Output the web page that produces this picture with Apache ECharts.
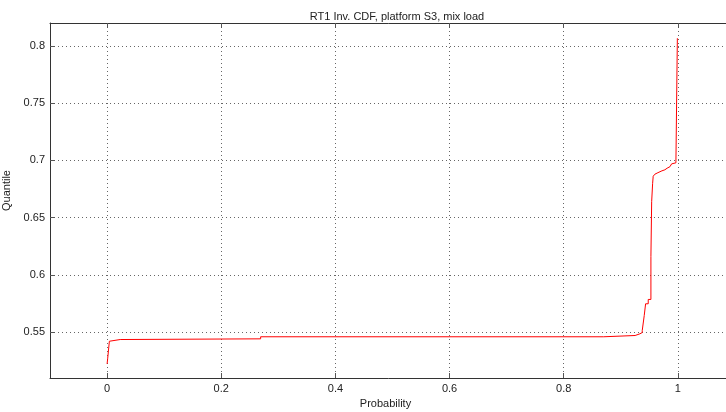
<!DOCTYPE html>
<html>
<head>
<meta charset="utf-8">
<script src="https://cdn.jsdelivr.net/npm/echarts@6/dist/echarts.min.js"></script>
<style>
  html, body { margin: 0; padding: 0; background: #fff; }
  #chart { width: 726px; height: 412px; }
</style>
</head>
<body>
<div id="chart"></div>
<script>
// inverse CDF breakpoints: at probability[i] the quantile steps to quantile[i]
var probability = [0, 0.001, 0.004, 0.006, 0.023, 0.269, 0.870, 0.925, 0.9335, 0.9375,
  0.941, 0.9434, 0.948, 0.9527, 0.954, 0.9557, 0.9567, 0.958, 0.9597, 0.962, 0.965,
  0.9685, 0.972, 0.9772, 0.981, 0.986, 0.989, 0.9912, 0.9965, 0.999]
var quantile = [0.5223, 0.5267, 0.5421, 0.5436, 0.5442, 0.5460, 0.5471, 0.5486, 0.5497, 0.5515,
  0.5646, 0.5748, 0.5786, 0.616, 0.664, 0.680, 0.6862, 0.6872, 0.688, 0.6893, 0.6900,
  0.6909, 0.6918, 0.6932, 0.6945, 0.6959, 0.6970, 0.6979, 0.6985, 0.8067]
var xTicks = [0, 0.2, 0.4, 0.6, 0.8, 1]
var yTicks = [0.55, 0.6, 0.65, 0.7, 0.75, 0.8]

var font = 'Liberation Sans, Arial, sans-serif'
var textColor = '#222'

var points = probability.map(function (p, i) { return [p, quantile[i]] })

function xAxisCfg(top) {
  return {
    type: 'value',
    position: top ? 'top' : 'bottom',
    min: -0.1,
    max: 1.1,
    name: top ? '' : 'Probability',
    nameLocation: 'middle',
    nameGap: 19,
    nameTextStyle: { fontFamily: font, fontSize: 11, color: textColor, padding: [0, 14, 0, 0] },
    axisLine: { show: true, onZero: false, lineStyle: { color: '#333', width: 1 } },
    axisTick: { show: true, inside: true, length: 5, customValues: xTicks, lineStyle: { color: '#555' } },
    axisLabel: {
      show: !top,
      customValues: xTicks,
      margin: 5,
      fontFamily: font,
      fontSize: 11,
      color: textColor,
      formatter: function (v) { return String(+v.toFixed(2)) }
    },
    splitLine: { show: !top, lineStyle: { color: '#666', type: [1, 3], width: 1 } }
  }
}

var chart = echarts.init(document.getElementById('chart'))
chart.setOption({
  animation: false,
  backgroundColor: '#fff',
  title: {
    text: 'RT1 Inv. CDF, platform S3, mix load',
    left: 392,
    textAlign: 'center',
    top: 6,
    textStyle: { fontFamily: font, fontSize: 11, fontWeight: 'normal', color: textColor }
  },
  grid: { left: 50, right: -9, top: 23, bottom: 34, outerBoundsMode: 'none', containLabel: false },
  xAxis: [xAxisCfg(false), xAxisCfg(true)],
  yAxis: {
    type: 'value',
    min: 0.51,
    max: 0.82,
    name: 'Quantile',
    nameLocation: 'middle',
    nameGap: 30,
    nameTextStyle: { fontFamily: font, fontSize: 11, color: textColor, padding: [0, 0, 0, 20] },
    axisLine: { show: true, onZero: false, lineStyle: { color: '#333', width: 1 } },
    axisTick: { show: true, inside: true, length: 5, customValues: yTicks, lineStyle: { color: '#555' } },
    axisLabel: {
      customValues: yTicks,
      margin: 5,
      fontFamily: font,
      fontSize: 11,
      color: textColor,
      formatter: function (v) { return String(+v.toFixed(2)) }
    },
    splitLine: { show: true, lineStyle: { color: '#666', type: [1, 3], width: 1 } }
  },
  series: [{
    type: 'line',
    step: 'end',
    data: points,
    symbol: 'none',
    lineStyle: { color: '#ff0000', width: 1 }
  }]
})
</script>
</body>
</html>
